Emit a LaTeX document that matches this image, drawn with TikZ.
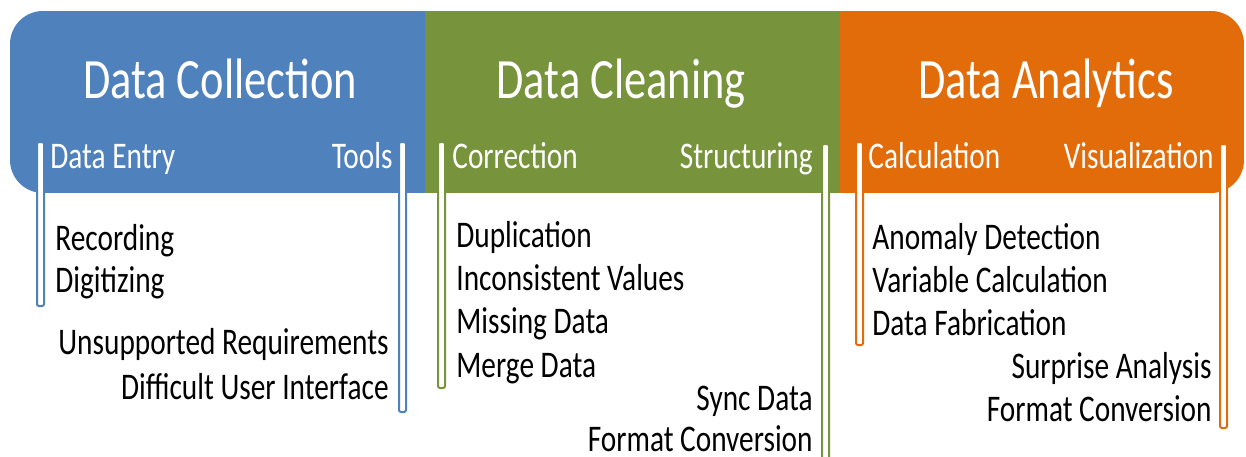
\documentclass[tikz,border=0pt]{standalone}
\usepackage{fontspec}
\setmainfont{Carlito}[FakeStretch=0.78]
\usetikzlibrary{positioning}
\definecolor{colA}{RGB}{79,129,189}
\definecolor{colB}{RGB}{119,147,60}
\definecolor{colC}{RGB}{227,108,10}

\begin{document}
\begin{tikzpicture} [x=0.5pt, y=-0.5pt,
    title/.style = {anchor=base, text=white, inner sep=0pt, font=\fontsize{28.5}{30}\selectfont},
    head/.style = {text=white, inner sep=0pt, font=\fontsize{18.8}{20}\selectfont},
    item/.style = {inner sep=0pt, font=\fontsize{18.8}{20}\selectfont},
    bar/.style = {fill=white, line width=1pt, rounded corners=1pt}]
\useasboundingbox (0,0) rectangle (1246,456);
% header band
\begin{scope}
\clip [rounded corners=16.5pt] (10,11) rectangle (1244,193);
\fill [colA] (10,11) rectangle (425,193);
\fill [colB] (425,11) rectangle (840,193);
\fill [colC] (840,11) rectangle (1244,193);
\end{scope}
% bars
\draw [bar, draw=colA] (37,142) rectangle (44,306);
\draw [bar, draw=colA] (399,142) rectangle (406,412);
\draw [bar, draw=colB] (438,142) rectangle (445,388);
\draw [bar, draw=colB] (822,144) rectangle (829,470);
\draw [bar, draw=colC] (856,142) rectangle (863,345);
\draw [bar, draw=colC] (1220,144) rectangle (1227,428);
% titles
\node (t1) [title] at (220,98) {Data Collection};
\node (t2) [title] at (621,98) {Data Cleaning};
\node (t3) [title] at (1046,98) {Data Analytics};
% sub headings
\node (h1) [head, anchor=base west] at (50,168) {Data Entry};
\node (h2) [head, anchor=base east] at (393,168) {Tools};
\node (h3) [head, anchor=base west] at (452,168) {Correction};
\node (h4) [head, anchor=base east] at (813,168) {Structuring};
\node (h5) [head, anchor=base west] at (868,168) {Calculation};
\node (h6) [head, anchor=base east] at (1214,168) {Visualization};
% data collection
\node (a1) [item, anchor=base west] at (55,250) {Recording};
\node (a2) [item, below=21pt of a1.base west, anchor=base west] {Digitizing};
\node (a3) [item, anchor=base east] at (389,354) {Unsupported Requirements};
\node (a4) [item, below=22.5pt of a3.base east, anchor=base east] {Difficult User Interface};
% data cleaning
\node (b1) [item, anchor=base west] at (456,247) {Duplication};
\node (b2) [item, below=21.7pt of b1.base west, anchor=base west] {Inconsistent Values};
\node (b3) [item, below=21.7pt of b2.base west, anchor=base west] {Missing Data};
\node (b4) [item, below=21.7pt of b3.base west, anchor=base west] {Merge Data};
\node (b5) [item, anchor=base east] at (813,410) {Sync Data};
\node (b6) [item, below=20.8pt of b5.base east, anchor=base east] {Format Conversion};
% data analytics
\node (c1) [item, anchor=base west] at (872,249) {Anomaly Detection};
\node (c2) [item, below=21.6pt of c1.base west, anchor=base west] {Variable Calculation};
\node (c3) [item, below=21.6pt of c2.base west, anchor=base west] {Data Fabrication};
\node (c5) [item, anchor=base east] at (1212,378) {Surprise Analysis};
\node (c6) [item, below=21.6pt of c5.base east, anchor=base east] {Format Conversion};
\end{tikzpicture}
\end{document}
